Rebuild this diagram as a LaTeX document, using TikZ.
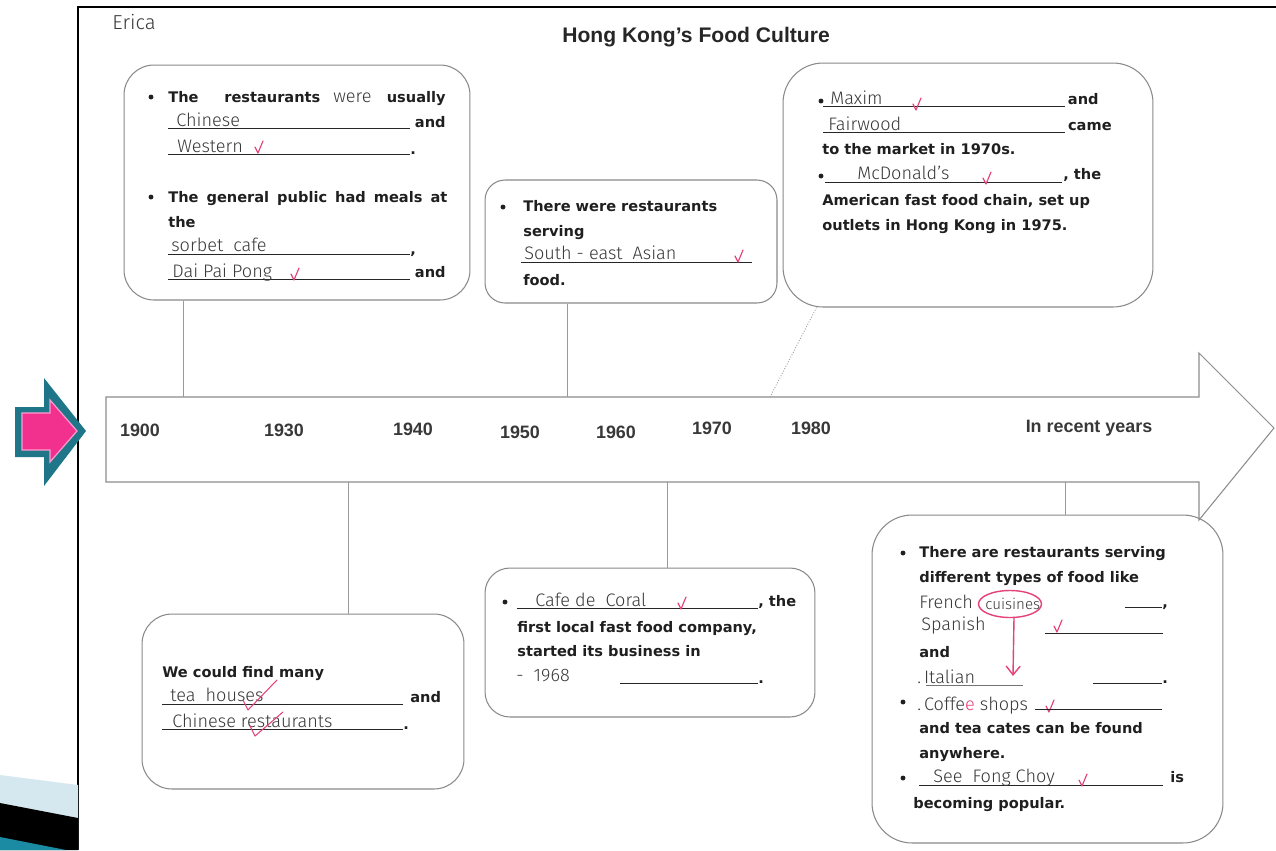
\documentclass[tikz,border=0pt]{standalone}
\usepackage{fontspec}
\usetikzlibrary{calc,arrows.meta,shapes.geometric}
\newfontfamily\bodyf{DejaVu Sans}
\newfontfamily\arialf{Liberation Sans}
\newfontfamily\handf{Fira Sans Light}
\definecolor{teal1}{HTML}{1F7689}
\definecolor{pink1}{HTML}{F2318F}
\definecolor{pink2}{HTML}{FF9CCD}
\definecolor{lblue}{HTML}{D5E8F0}
\definecolor{teal2}{HTML}{1B8BA3}
\definecolor{redmark}{HTML}{E5427A}
\definecolor{boxgray}{HTML}{8A8A8A}
\begin{document}
\begin{tikzpicture}[x=0.02cm,y=-0.02cm,
 body/.style={font=\bodyf\bfseries\fontsize{8.3}{10}\selectfont, text=black!88, inner sep=0pt, anchor=base west},
 hw/.style={font=\handf\fontsize{10.3}{12}\selectfont, text=black!78, inner sep=0pt, anchor=base west},
 yr/.style={font=\arialf\bfseries\fontsize{10.2}{12}\selectfont, text=black!78, inner sep=0pt},
 uline/.style={draw=black!85, line width=0.55pt},
 card/.style n args={3}{draw=boxgray, line width=0.6pt, rectangle, rounded corners=#3, minimum width=#1, minimum height=#2, inner sep=0pt},
 conn/.style={draw=black!40, line width=0.5pt},
 chk/.pic={\draw[redmark, line width=0.65pt, line cap=round, line join=round] (-3,-6) -- (0,0) -- (5,-12);},
 dot/.style={fill=black!88},
 redln/.style={draw=redmark, line width=0.6pt, line cap=round, line join=round}
]
\useasboundingbox (0,0) rectangle (1276,850);
\fill[white] (0,0) rectangle (1276,850);

% page border
\draw[line width=1.1pt] (78,850) -- (78,7) -- (1276,7);

% left decoration arrow
\fill[teal1] (15,407) -- (44,407) -- (44,378) -- (86,431) -- (44,486) -- (44,457) -- (15,457) -- cycle;
\filldraw[fill=pink1, draw=pink2, line width=0.7pt] (22,413) -- (50,413) -- (50,400) -- (77,431) -- (50,462) -- (50,450) -- (22,450) -- cycle;

% bottom-left decoration
\fill[lblue] (0,775) -- (78,785) -- (78,850) -- (0,850) -- cycle;
\fill[black] (0,803) -- (78,818) -- (78,850) -- (0,850) -- cycle;
\fill[teal2] (0,837) -- (66,850) -- (0,850) -- cycle;

% name and title
\node[hw, font=\handf\fontsize{11.5}{12}\selectfont] (name) at (112,29) {Erica};
\node[font=\arialf\bfseries\fontsize{12}{14}\selectfont, text=black!85] (title) at (696,37) {Hong Kong’s Food Culture};

% timeline arrow
\draw[draw=black!45, line width=0.6pt, fill=white] (106,397) -- (1199,397) -- (1199,353) -- (1274,428) -- (1199,520) -- (1199,482) -- (106,482) -- cycle;
\coordinate (t1) at (183,397);
\coordinate (t2) at (567,397);
\coordinate (t3) at (770,397);
\coordinate (t4) at (348,482);
\coordinate (t5) at (667,482);
\coordinate (t6) at (1065,482);

% years
\node[yr] (y1) at (140,430) {1900};
\node[yr] (y2) at (284,430) {1930};
\node[yr] (y3) at (413,429) {1940};
\node[yr] (y4) at (520,432) {1950};
\node[yr] (y5) at (616,432) {1960};
\node[yr] (y6) at (712,428) {1970};
\node[yr] (y7) at (811,428) {1980};
\node[yr] (y8) at (1089,428) {In recent years};

% cards
\node[card={6.92cm}{4.7cm}{0.6cm}] (b1) at (297,182.5) {};
\node[card={5.84cm}{2.46cm}{0.4cm}] (b2) at (631,241.5) {};
\node[card={7.4cm}{4.88cm}{0.8cm}] (b3) at (968,185) {};
\node[card={6.44cm}{3.5cm}{0.6cm}] (b4) at (303,701.5) {};
\node[card={6.6cm}{2.98cm}{0.5cm}] (b5) at (650,642.5) {};
\node[card={7.02cm}{6.56cm}{0.8cm}] (b6) at (1047.5,679) {};

% connectors
\draw[conn] (b1.south -| t1) -- (t1);
\draw[conn] (b2.south -| t2) -- (t2);
\draw[conn, densely dotted] ($(b3.south west)+(34,0)$) -- (t3);
\draw[conn] (t4) -- (b4.north -| t4);
\draw[conn] (t5) -- (b5.north -| t5);
\draw[conn] (t6) -- (b6.north -| t6);

% ---- box 1
\fill[dot] (151,97) circle[radius=1.4pt];
\node[body] (a1) at (168,102) {The};
\node[body] (a2) at (224,102) {restaurants};
\node[hw] (a3) at (333,102) {were};
\node[body, anchor=base east] (a4) at (446,102) {usually};
\draw[uline] (168,128) -- (410,128);
\node[hw] (a5) at (176,126) {Chinese};
\node[body, anchor=base east] (a6) at (446,127) {and};
\draw[uline] (168,154) -- (410,154);
\node[hw] (a7) at (177,152) {Western};
\pic at (258,153) {chk};
\node[body] (a8) at (410,154) {.};
\fill[dot] (151,197) circle[radius=1.4pt];
\node[body] (a9) at (168,202) {\makebox[5.58cm][s]{The general public had meals at}};
\node[body] (a10) at (168,227) {the};
\draw[uline] (168,254) -- (410,254);
\node[hw] (a11) at (171,251) {sorbet\ \ cafe};
\node[body] (a12) at (410,254) {,};
\draw[uline] (168,279) -- (410,279);
\node[hw] (a13) at (172,277) {Dai Pai Pong};
\pic at (294,280) {chk};
\node[body, anchor=base east] (a14) at (446,277) {and};

% ---- box 2
\fill[dot] (503,207) circle[radius=1.4pt];
\node[body] (b2a) at (523,211) {There were restaurants};
\node[body] (b2b) at (523,236) {serving};
\draw[uline] (521,262) -- (752,262);
\node[hw] (b2c) at (524,259) {South - east\ \ Asian};
\pic at (738,262) {chk};
\node[body] (b2d) at (523,285) {food.};

% ---- box 3
\fill[dot] (821,101) circle[radius=1.4pt];
\draw[uline] (823,106) -- (1065,106);
\node[hw] (c1) at (830,104) {Maxim};
\pic at (916,110) {chk};
\node[body, anchor=base east] (c2) at (1099,104) {and};
\draw[uline] (823,132) -- (1065,132);
\node[hw] (c3) at (828,130) {Fairwood};
\node[body, anchor=base east] (c4) at (1112,130) {came};
\node[body] (c5) at (822,154) {to the market in 1970s.};
\fill[dot] (821,176) circle[radius=1.4pt];
\draw[uline] (825,182) -- (1062,182);
\node[hw] (c6) at (857,179) {McDonald’s};
\pic at (986,184) {chk};
\node[body] (c7) at (1063,179) {, the};
\node[body] (c8) at (822,205) {American fast food chain, set up};
\node[body] (c9) at (822,230) {outlets in Hong Kong in 1975.};

% ---- box 4
\node[body] (d1) at (162,677) {We could find many};
\draw[uline] (162,704) -- (403,704);
\node[hw] (d2) at (170,701) {tea\ \ houses};
\draw[redln] (243,700) -- (248,710) -- (277,680);
\node[body] (d3) at (410,702) {and};
\draw[uline] (162,729) -- (403,729);
\node[hw] (d4) at (172,727) {Chinese restaurants};
\draw[redln] (250,726) -- (255,736) -- (283,712);
\node[body] (d5) at (403,729) {.};

% ---- box 5
\fill[dot] (505,602) circle[radius=1.4pt];
\draw[uline] (517,608) -- (758,608);
\node[hw] (e1) at (535,606) {Cafe\ de\ \ Coral};
\pic at (681,609) {chk};
\node[body] (e2) at (758,606) {, the};
\node[body] (e3) at (517,632) {first local fast food company,};
\node[body] (e4) at (517,656) {started its business in};
\node[hw] (e5) at (516,681) {-\ \ 1968};
\draw[uline] (620,683) -- (758,683);
\node[body] (e6) at (758,683) {.};

% ---- box 6
\fill[dot] (903,553) circle[radius=1.4pt];
\node[body] (f1) at (919,557) {There are restaurants serving};
\node[body] (f2) at (919,582) {different types of food like};
\node[hw] (f3) at (919,608) {French};
\node[draw=redmark, line width=0.8pt, ellipse, minimum width=1.26cm, minimum height=0.54cm, inner sep=0pt] (circ) at (1010,604) {};
\node[hw, font=\handf\fontsize{8.6}{10}\selectfont] (f4) at (985,609) {cuisines};
\draw[uline] (1125,607) -- (1162,607);
\node[body] (f5) at (1162,607) {,};
\node[hw] (f6) at (921,630) {Spanish};
\pic at (1057,632) {chk};
\draw[uline] (1045,633) -- (1163,633);
\node[body] (f7) at (919,657) {and};
\node[hw] (f8) at (917,683) {.\,Italian};
\draw[uline, draw=black!55] (926,685) -- (1023,685);
\draw[uline] (1093,683) -- (1162,683);
\node[body] (f9) at (1162,683) {.};
\coordinate (ab) at (1013,676);
\draw[redln, line width=0.8pt, -{Straight Barb[length=5pt,width=8pt]}] ($(circ.south)+(4,0)$) -- (ab);
\fill[dot] (903,702) circle[radius=1.4pt];
\node[hw] (f10) at (917,710) {.\,Coffe\textcolor{redmark}{e}\ shops};
\pic at (1049,712) {chk};
\draw[uline] (1035,709) -- (1162,709);
\node[body] (f11) at (919,733) {and tea cates can be found};
\node[body] (f12) at (919,758) {anywhere.};
\fill[dot] (903,778) circle[radius=1.4pt];
\draw[uline] (919,785) -- (1163,785);
\node[hw] (f13) at (933,782) {See\ \ Fong Choy};
\pic at (1082,786) {chk};
\node[body] (f14) at (1170,782) {is};
\node[body] (f15) at (913,808) {becoming popular.};
\end{tikzpicture}
\end{document}
